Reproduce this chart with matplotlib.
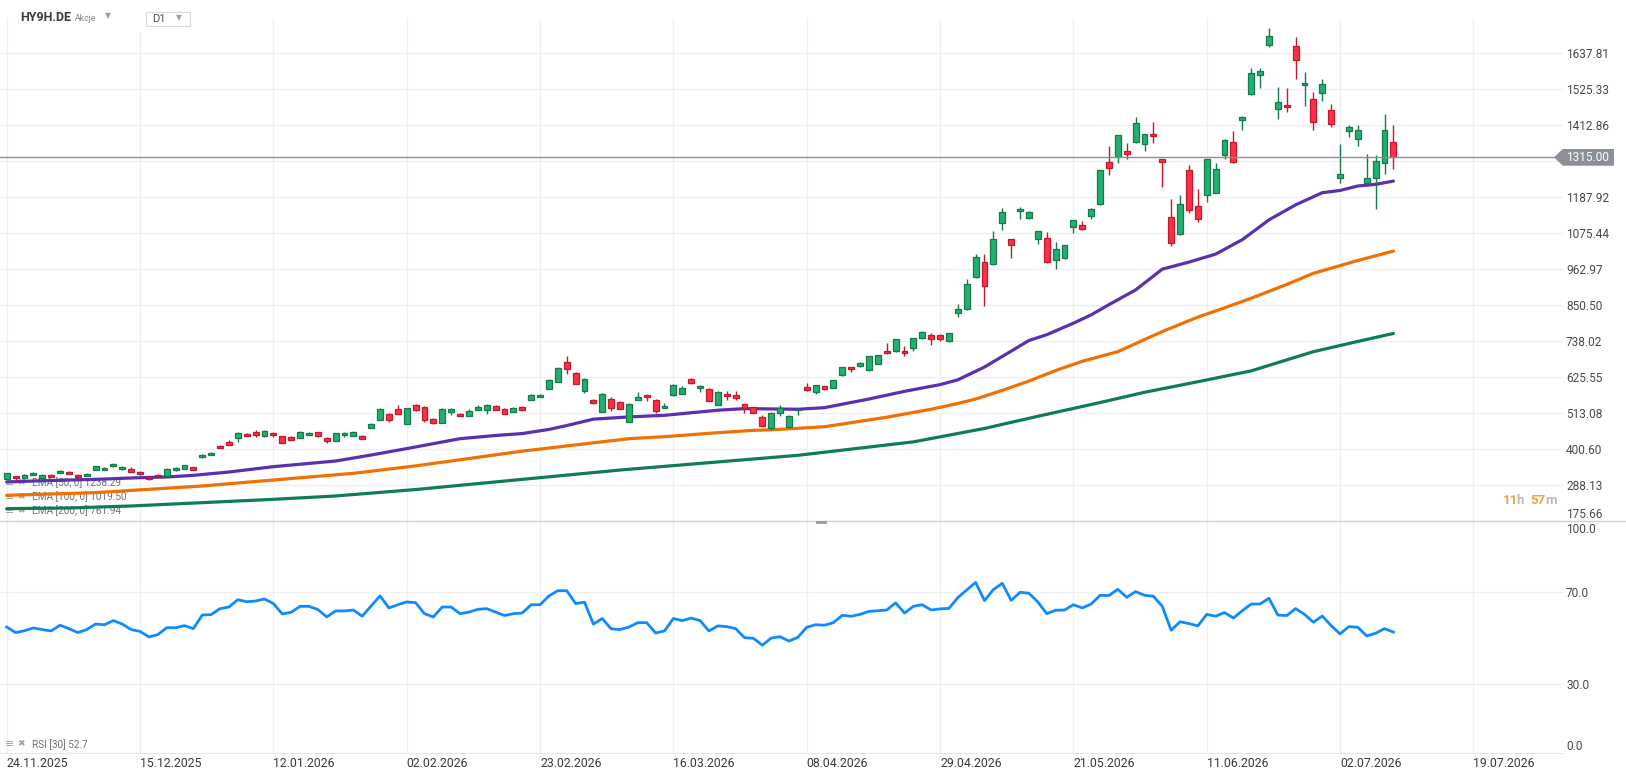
import numpy as np
import matplotlib
matplotlib.use("Agg")
import matplotlib.pyplot as plt
from matplotlib.patches import Polygon, Rectangle
from matplotlib.lines import Line2D

plt.rcParams["font.family"] = ["Roboto", "DejaVu Sans"]

W, H = 1626, 779

# ---- data --------------------------------------------------------------
date_labels = ["24.11.2025", "15.12.2025", "12.01.2026", "02.02.2026", "23.02.2026",
               "16.03.2026", "08.04.2026", "29.04.2026", "21.05.2026", "11.06.2026",
               "02.07.2026", "19.07.2026"]
date_ticks = [0, 15, 30, 45, 60, 75, 90, 105, 120, 135, 150, 165]

opens = [308.0, 315.3, 309.0, 320.5, 311.1, 320.5, 326.7, 329.9, 320.5, 317.4,
         336.1, 336.1, 346.5, 337.2, 339.2, 329.9, 309.0, 320.5, 316.3, 336.1,
         339.2, 343.4, 376.7, 383.0, 411.1, 423.6, 435.0, 448.6, 454.8, 441.3,
         451.7, 441.3, 439.2, 436.1, 444.4, 453.7, 436.1, 426.7, 444.4, 442.3,
         440.2, 466.3, 491.3, 511.1, 526.7, 479.8, 537.1, 532.9, 493.4, 482.9,
         516.3, 511.1, 503.8, 522.5, 522.5, 536.0, 526.7, 517.3, 532.9, 554.8,
         564.2, 589.2, 611.0, 673.5, 639.1, 582.9, 554.8, 517.3, 557.9, 548.5,
         486.1, 554.8, 570.4, 554.8, 528.8, 569.4, 573.5, 620.4, 592.3, 589.2,
         539.2, 573.5, 570.4, 541.3, 531.9, 501.7, 466.3, 514.2, 470.4, 522.5,
         595.4, 579.8, 597.4, 591.2, 630.8, 656.8, 658.9, 647.4, 666.2, 706.8,
         705.7, 706.8, 715.1, 746.4, 756.8, 756.8, 737.0, 824.4, 836.9, 937.0,
         985.9, 977.6, 1105.7, 1056.8, 1144.2, 1122.3, 1056.8, 1059.9, 991.1, 996.4,
         1096.3, 1100.5, 1128.6, 1168.2, 1297.3, 1313.9, 1331.6, 1361.8, 1353.5, 1384.7,
         1306.6, 1125.4, 1072.3, 1272.3, 1159.8, 1194.2, 1202.5, 1321.2, 1359.7, 1428.5,
         1511.8, 1571.1, 1662.8, 1462.8, 1475.3, 1659.6, 1537.8, 1494.1, 1512.8, 1459.7,
         1247.3, 1394.1, 1369.1, 1231.7, 1248.0, 1296.0, 1359.8]
highs = [326.0, 316.5, 321.5, 328.0, 321.5, 321.5, 334.0, 331.0, 321.5, 324.7,
         347.5, 343.4, 356.0, 346.5, 343.4, 331.0, 310.0, 323.6, 340.5, 343.4,
         351.5, 344.4, 384.0, 391.0, 412.0, 427.8, 453.0, 449.6, 459.0, 459.0,
         452.7, 442.3, 440.2, 455.9, 453.0, 454.8, 437.0, 452.0, 452.7, 456.0,
         443.4, 481.0, 528.0, 512.0, 537.1, 529.0, 540.2, 534.0, 498.6, 528.0,
         528.0, 512.0, 524.6, 539.2, 540.2, 537.0, 527.7, 530.8, 534.0, 571.5,
         572.0, 618.5, 656.0, 690.2, 640.0, 621.5, 556.0, 574.5, 562.1, 549.5,
         543.3, 577.7, 571.4, 555.8, 545.4, 602.6, 596.4, 623.5, 599.5, 590.2,
         580.8, 582.9, 582.9, 542.3, 532.9, 507.9, 515.2, 537.1, 506.0, 529.8,
         605.8, 600.6, 598.5, 617.2, 658.0, 658.0, 673.4, 692.5, 695.5, 731.8,
         745.5, 722.4, 747.5, 770.3, 763.0, 759.9, 764.0, 853.6, 931.7, 1010.9,
         1010.9, 1082.8, 1154.6, 1058.0, 1157.8, 1145.3, 1083.0, 1078.6, 1048.4, 1039.0,
         1117.0, 1113.0, 1154.6, 1274.0, 1348.3, 1383.0, 1356.6, 1438.9, 1386.0, 1423.3,
         1307.5, 1182.7, 1195.2, 1289.0, 1213.9, 1308.0, 1294.1, 1370.2, 1395.1, 1441.0,
         1590.9, 1590.9, 1716.9, 1531.6, 1528.4, 1688.8, 1579.4, 1515.9, 1556.6, 1478.4,
         1353.5, 1412.8, 1412.8, 1322.3, 1320.0, 1447.2, 1413.8]
lows = [306.0, 300.7, 308.0, 319.5, 310.0, 313.0, 326.0, 322.6, 311.0, 316.3,
        335.0, 335.0, 345.5, 336.0, 329.0, 319.5, 303.8, 314.3, 315.0, 333.0,
        338.0, 335.0, 372.0, 382.0, 403.0, 412.0, 422.5, 441.0, 439.2, 438.0,
        439.2, 419.5, 428.8, 435.0, 443.0, 438.2, 420.5, 425.7, 439.2, 441.3,
        432.0, 465.0, 490.0, 485.0, 510.0, 478.5, 519.3, 485.0, 478.8, 481.0,
        506.9, 503.8, 502.7, 521.5, 510.0, 522.5, 510.0, 516.3, 522.5, 553.8,
        563.0, 588.0, 610.0, 635.0, 603.8, 576.7, 541.3, 516.3, 519.4, 525.7,
        485.0, 553.8, 550.6, 514.2, 527.8, 566.2, 572.5, 603.7, 578.7, 550.6,
        538.2, 553.7, 553.7, 514.2, 513.2, 472.6, 460.0, 503.8, 469.4, 506.9,
        583.0, 573.5, 586.0, 590.0, 629.8, 640.1, 655.8, 646.0, 665.0, 698.5,
        704.5, 690.1, 705.7, 745.0, 724.5, 738.0, 733.9, 811.9, 835.0, 933.9,
        846.4, 975.5, 1083.8, 996.4, 1121.3, 1121.0, 1040.1, 983.0, 962.0, 995.0,
        1075.5, 1083.8, 1121.3, 1165.0, 1258.7, 1296.2, 1308.7, 1358.7, 1333.7, 1358.7,
        1221.3, 1036.9, 1071.0, 1140.0, 1109.8, 1174.4, 1201.0, 1306.6, 1296.0, 1399.3,
        1508.7, 1530.5, 1658.6, 1433.7, 1455.5, 1558.6, 1474.3, 1399.3, 1489.9, 1408.7,
        1231.7, 1375.4, 1349.3, 1228.5, 1150.0, 1259.8, 1275.4]
closes = [324.7, 309.0, 318.4, 326.7, 320.5, 314.3, 333.0, 323.6, 312.2, 323.6,
          346.5, 342.4, 354.9, 345.5, 329.9, 322.6, 305.9, 315.3, 339.2, 342.4,
          349.6, 336.1, 383.0, 389.2, 403.8, 413.2, 451.7, 442.3, 445.5, 457.9,
          444.4, 420.5, 429.8, 452.7, 451.7, 441.3, 425.7, 450.7, 451.7, 454.8,
          433.0, 479.8, 526.7, 492.3, 511.1, 527.7, 522.5, 491.3, 482.9, 526.7,
          526.7, 504.8, 520.4, 532.9, 539.2, 523.5, 511.1, 527.7, 523.5, 570.4,
          570.4, 617.3, 654.7, 651.6, 604.8, 620.4, 545.4, 573.5, 528.8, 526.7,
          542.3, 564.2, 564.2, 520.4, 536.0, 601.6, 592.3, 607.9, 598.5, 551.6,
          579.8, 567.3, 561.0, 528.8, 514.2, 473.6, 514.2, 528.8, 504.8, 524.6,
          585.0, 599.6, 587.0, 616.2, 656.8, 649.5, 669.3, 691.2, 694.3, 699.5,
          744.3, 699.5, 746.4, 766.1, 744.3, 744.3, 763.0, 838.0, 916.1, 1000.5,
          908.9, 1056.8, 1141.1, 1038.0, 1150.5, 1141.1, 1081.7, 984.9, 1025.5, 1038.0,
          1116.1, 1088.0, 1150.5, 1272.3, 1278.5, 1381.6, 1322.3, 1419.1, 1384.7, 1378.5,
          1297.3, 1044.2, 1166.1, 1147.3, 1119.2, 1306.6, 1275.4, 1366.0, 1297.3, 1439.9,
          1575.3, 1581.5, 1691.9, 1484.7, 1469.1, 1615.9, 1544.0, 1422.2, 1540.9, 1416.0,
          1259.8, 1406.6, 1397.2, 1247.3, 1300.0, 1398.2, 1315.0]

ema50_idx = [0, 3, 10, 15, 18, 21, 25, 30, 37, 41, 45, 51, 55, 58, 61, 63, 66, 70, 74,
             80, 83, 86, 89, 92, 97, 101, 105, 107, 110, 112, 115, 117, 120, 122, 124,
             127, 130, 133, 136, 139, 142, 145, 148, 150, 152, 154, 156]
ema50_val = [297.6, 300.7, 305.9, 311.1, 313.2, 318.4, 328.8, 345.5, 363.2, 381.9, 402.0,
             433.0, 443.0, 449.0, 462.0, 474.0, 494.0, 501.0, 506.0, 522.0, 527.0, 526.0,
             525.0, 530.0, 557.0, 581.0, 602.0, 617.0, 657.0, 690.0, 740.0, 758.0, 794.0,
             820.0, 852.0, 898.0, 963.0, 985.0, 1010.0, 1055.0, 1117.0, 1164.0, 1202.0,
             1209.0, 1223.0, 1228.0, 1238.29]
ema100_idx = [0, 10, 16, 22, 30, 39, 46, 58, 70, 74, 80, 84, 87, 92, 99, 104, 107, 109,
              112, 115, 118, 121, 125, 130, 134, 137, 140, 144, 147, 152, 156]
ema100_val = [255.9, 264.3, 274.7, 285.1, 303.8, 324.7, 348.0, 394.0, 433.0, 439.2, 451.7,
              459.0, 462.1, 470.4, 500.0, 525.0, 543.0, 557.0, 584.0, 613.0, 646.0, 675.0,
              705.0, 768.0, 813.0, 842.0, 872.0, 915.0, 950.0, 990.0, 1019.50]
ema200_idx = [0, 7, 14, 22, 30, 37, 46, 69, 89, 102, 110, 116, 123, 128, 134, 140, 147,
              152, 156]
ema200_val = [214.3, 216.4, 222.6, 233.0, 243.4, 253.9, 274.0, 335.0, 381.0, 423.0, 465.0,
              503.0, 546.0, 578.0, 611.0, 645.0, 705.0, 737.0, 761.94]

rsi = [54.9, 52.5, 53.3, 54.5, 53.8, 53.2, 55.7, 54.2, 52.5, 53.8,
       56.2, 55.9, 57.7, 56.2, 53.8, 53.0, 50.6, 51.6, 54.6, 54.6,
       55.5, 54.2, 60.1, 60.3, 62.9, 63.6, 66.8, 65.9, 66.2, 67.1,
       65.1, 60.6, 61.3, 63.9, 63.9, 62.5, 59.3, 61.9, 61.9, 62.3,
       59.6, 64.1, 68.4, 63.2, 64.6, 65.8, 65.5, 60.7, 59.3, 63.6,
       63.6, 60.7, 61.4, 62.6, 62.9, 61.4, 59.9, 60.7, 61.0, 64.6,
       64.6, 68.4, 70.7, 70.7, 65.1, 65.7, 56.2, 58.6, 54.1, 53.8,
       54.9, 56.8, 56.8, 52.3, 53.2, 58.6, 57.7, 58.8, 57.7, 53.2,
       55.4, 55.1, 54.2, 50.3, 50.0, 47.0, 50.1, 50.7, 48.8, 50.4,
       54.8, 55.9, 55.7, 56.8, 60.0, 59.6, 60.4, 61.7, 62.0, 62.3,
       65.4, 61.0, 63.9, 64.6, 62.3, 62.8, 63.0, 67.7, 71.0, 74.3,
       66.4, 71.2, 73.9, 66.5, 70.0, 69.6, 65.8, 60.7, 62.2, 62.3,
       64.6, 63.2, 64.9, 68.7, 68.6, 71.3, 67.8, 70.3, 68.7, 68.3,
       63.9, 53.5, 57.2, 56.4, 55.4, 60.4, 59.6, 61.2, 58.8, 62.0,
       64.9, 64.9, 67.4, 60.1, 59.9, 62.9, 60.4, 57.0, 59.7, 55.5,
       51.9, 55.1, 54.8, 51.0, 52.2, 54.2, 52.7]

price_ticks = [175.66, 288.13, 400.60, 513.08, 625.55, 738.02, 850.50, 962.97,
               1075.44, 1187.92, 1300.39, 1412.86, 1525.33, 1637.81]
rsi_ticks = [0, 30, 70, 100]

# ---- styling -------------------------------------------------------------
GRID = "#f0f0f0"
TXT = "#4a4a4a"
UP_FILL, UP_EDGE = "#22b070", "#157a4a"
DN_FILL, DN_EDGE = "#ff2f47", "#bf1a2d"
C50, C100, C200 = "#5a2fb0", "#f07000", "#0f7d50"
RSI_C = "#0d8bff"


def fx(px):
    return px / W


def fy(py):
    return 1 - py / H


fig = plt.figure(figsize=(W / 100, H / 100), dpi=100, facecolor="white")

ax = fig.add_axes([0, fy(521), fx(1563), fy(18) - fy(521)])
rax = fig.add_axes([0, fy(753.3), fx(1563), fy(521) - fy(753.3)])

xl = (-0.754, 175.08)

# candles
x = np.arange(len(closes))
o = np.array(opens)
c = np.array(closes)
up = c >= o
bottoms = np.minimum(o, c)
heights = np.maximum(np.abs(c - o), 1.8)
fills = [UP_FILL if u else DN_FILL for u in up]
edges = [UP_EDGE if u else DN_EDGE for u in up]
ax.vlines(x, lows, highs, colors=edges, lw=1.0, zorder=4)
ax.bar(x, heights, bottom=bottoms, width=0.66, color=fills, edgecolor=edges,
       linewidth=0.9, zorder=5)

# moving averages
ax.plot(ema200_idx, ema200_val, color=C200, lw=2.3, zorder=3, solid_capstyle="round",
        solid_joinstyle="round")
ax.plot(ema100_idx, ema100_val, color=C100, lw=2.3, zorder=3, solid_capstyle="round",
        solid_joinstyle="round")
ax.plot(ema50_idx, ema50_val, color=C50, lw=2.3, zorder=3, solid_capstyle="round",
        solid_joinstyle="round")

last_price = closes[-1]
ax.axhline(last_price, color="#8f8f8f", lw=1.0, zorder=6)

ax.set_xlim(*xl)
ax.set_ylim(175.66, 1748.1)
ax.set_xticks(date_ticks)
ax.set_yticks(price_ticks)
# the label right under the last-price tag is hidden by the tag
ax.set_yticklabels(["" if abs(v - last_price) < 40 else f"{v:.2f}" for v in price_ticks])
ax.yaxis.tick_right()
ax.tick_params(axis="x", length=0, labelbottom=False)
ax.tick_params(axis="y", length=0, pad=2.2, labelsize=8.6, labelcolor=TXT)
ax.grid(True, color=GRID, lw=1.0)
ax.set_axisbelow(True)
for s in ax.spines.values():
    s.set_visible(False)
ax.get_yticklabels()[0].set_va("bottom")

# EMA legend
leg_rows = [("EMA [50, 0]", ema50_val[-1], 482.7),
            ("EMA [100, 0]", ema100_val[-1], 496.7),
            ("EMA [200, 0]", ema200_val[-1], 510.7)]
for name, val, py in leg_rows:
    ax.text(fx(5), fy(py), "≡", transform=fig.transFigure, fontsize=8, color="#a0a0a0",
            va="center", ha="left", family=["DejaVu Sans"], zorder=2)
    ax.text(fx(17), fy(py), "✖", transform=fig.transFigure, fontsize=6.5, color="#a0a0a0",
            va="center", ha="left", family=["DejaVu Sans"], zorder=2)
    ax.text(fx(31.5), fy(py), f"{name} {val:.2f}", transform=fig.transFigure,
            fontsize=7.2, color="#6f6f6f", va="center", ha="left", zorder=2)

# RSI panel
rax.plot(np.arange(len(rsi)), rsi, color=RSI_C, lw=2.0, zorder=3)
rax.set_xlim(*xl)
rax.set_ylim(0, 101)
rax.set_xticks(date_ticks)
rax.set_xticklabels(date_labels, ha="left")
rax.set_yticks(rsi_ticks)
rax.set_yticklabels([f"{v:.1f}" for v in rsi_ticks])
rax.yaxis.tick_right()
rax.tick_params(axis="x", length=0, pad=2.5, labelsize=8.8, labelcolor="#3a3a3a")
rax.tick_params(axis="y", length=0, pad=2.2, labelsize=8.6, labelcolor=TXT)
rax.grid(True, axis="x", color=GRID, lw=1.0)
for v in (30, 70):
    rax.axhline(v, color=GRID, lw=1.0, zorder=1)
rax.set_axisbelow(True)
for s in rax.spines.values():
    s.set_visible(False)
rax.spines["bottom"].set_visible(True)
rax.spines["bottom"].set_color("#e6e6e6")
ylabs = rax.get_yticklabels()
ylabs[0].set_va("bottom")
ylabs[-1].set_va("top")

rax.text(fx(5), fy(744), "≡", transform=fig.transFigure, fontsize=8, color="#a0a0a0",
         va="center", family=["DejaVu Sans"])
rax.text(fx(17), fy(744), "✖", transform=fig.transFigure, fontsize=6.5, color="#a0a0a0",
         va="center", family=["DejaVu Sans"])
rax.text(fx(31.5), fy(745), f"RSI [30] {rsi[-1]:.1f}", transform=fig.transFigure,
         fontsize=7.2, color="#6f6f6f", va="center")

# separator between panels
fig.add_artist(Line2D([0, 1], [fy(521), fy(521)], transform=fig.transFigure,
                      color="#d2d2d2", lw=1.0))
fig.add_artist(Line2D([fx(817), fx(825)], [fy(521.5), fy(521.5)], transform=fig.transFigure,
                      color="#9a9a9a", lw=2.0))

# last price tag
py_last = 157.3
tag = [(fx(1554), fy(py_last)), (fx(1562.7), fy(149)), (fx(1614), fy(149)),
       (fx(1614), fy(165.7)), (fx(1562.7), fy(165.7))]
fig.add_artist(Polygon(tag, closed=True, transform=fig.transFigure,
                       facecolor="#8a9096", edgecolor="none", zorder=5))
fig.text(fx(1566), fy(py_last), f"{last_price:.2f}", fontsize=8.6, color="white",
         va="center", ha="left", zorder=6)

# countdown
for s, px, col in [("11", 1503, "#f5a03a"), ("h", 1516.5, "#b9b9b9"),
                   ("57", 1530, "#f5a03a"), ("m", 1545, "#b9b9b9")]:
    fig.text(fx(px), fy(501), s, fontsize=9.5, color=col, va="center", ha="left",
             fontweight="bold")

# header
fig.text(fx(20), fy(17.5), "HY9H.DE", fontsize=9, fontweight="bold", color="#3c3c3c",
         va="center", ha="left")
fig.text(fx(75), fy(18.5), "Akcje", fontsize=6.3, color="#8a8a8a", va="center", ha="left")
fig.text(fx(105), fy(16), "▼", fontsize=5.5, color="#a0a0a0", va="center", ha="left",
         family=["DejaVu Sans"])
fig.add_artist(Rectangle((fx(136), fy(32)), fx(60), fy(6) - fy(32), transform=fig.transFigure,
                         facecolor="white", edgecolor="none", zorder=3))
fig.add_artist(Rectangle((fx(146), fy(25.7)), fx(44), fy(11.7) - fy(25.7),
                         transform=fig.transFigure, facecolor="white",
                         edgecolor="#dadada", lw=0.8, zorder=4))
fig.text(fx(152), fy(19), "D1", fontsize=8, color="#555555", va="center", ha="left", zorder=5)
fig.text(fx(176), fy(18), "▼", fontsize=5.5, color="#a0a0a0", va="center", ha="left",
         family=["DejaVu Sans"], zorder=5)

fig.savefig("out.png", dpi=100, facecolor="white")
